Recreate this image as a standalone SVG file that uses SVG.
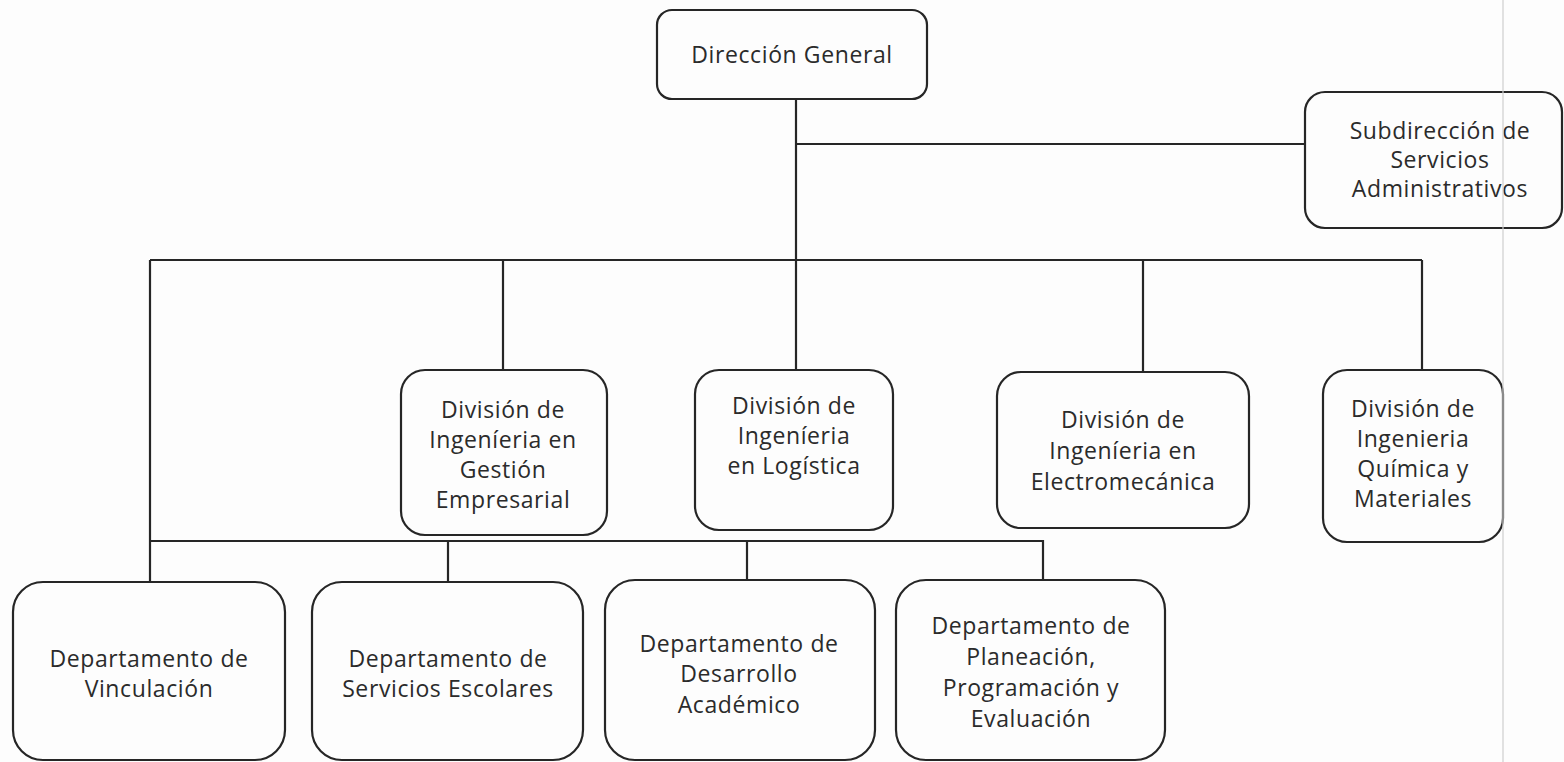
<svg xmlns="http://www.w3.org/2000/svg" width="1564" height="762" viewBox="0 0 1564 762">
<style>
.bg{fill:#fdfdfd}
.box{fill:none;stroke:#262626;stroke-width:2.2}
.ln{fill:none;stroke:#262626;stroke-width:2.2}
text{font-family:"Open Sans","Liberation Sans",sans-serif;font-size:23px;fill:#2b2b2b;text-anchor:middle;letter-spacing:0.6px}
.edge{stroke:#cfcfcf;stroke-width:1.2}
</style>
<rect class="bg" x="0" y="0" width="1564" height="762"/>
<g id="connectors">
<path class="ln" d="M796 99V260"/>
<path class="ln" d="M796 144H1305"/>
<path class="ln" d="M150 260H1422"/>
<path class="ln" d="M503 260V370"/>
<path class="ln" d="M796 260V370"/>
<path class="ln" d="M1143 260V372"/>
<path class="ln" d="M1422 260V370"/>
<path class="ln" d="M150 260V582"/>
<path class="ln" d="M150 541H1043V580"/>
<path class="ln" d="M448 541V582"/>
<path class="ln" d="M747 541V580"/>
</g>
<g id="n_direccion">
<rect class="box" x="657" y="10" width="270" height="89" rx="15"/>
<text x="792" y="63">Dirección General</text>
</g>
<g id="n_subdireccion">
<rect class="box" x="1305" y="92" width="257" height="136" rx="20"/>
<text x="1440" y="139">Subdirección de</text>
<text x="1440" y="168">Servicios</text>
<text x="1440" y="197">Administrativos</text>
</g>
<g id="n_gestion">
<rect class="box" x="401" y="370" width="206" height="165" rx="24"/>
<text x="503" y="418">División de</text>
<text x="503" y="448">Ingeníeria en</text>
<text x="503" y="478">Gestión</text>
<text x="503" y="508">Empresarial</text>
</g>
<g id="n_logistica">
<rect class="box" x="695" y="370" width="198" height="160" rx="24"/>
<text x="794" y="414">División de</text>
<text x="794" y="444">Ingeníeria</text>
<text x="794" y="474">en Logística</text>
</g>
<g id="n_electro">
<rect class="box" x="997" y="372" width="252" height="156" rx="24"/>
<text x="1123" y="428">División de</text>
<text x="1123" y="459">Ingeníeria en</text>
<text x="1123" y="490">Electromecánica</text>
</g>
<g id="n_quimica">
<rect class="box" x="1323" y="370" width="180" height="172" rx="24"/>
<text x="1413" y="417">División de</text>
<text x="1413" y="447">Ingenieria</text>
<text x="1413" y="477">Química y</text>
<text x="1413" y="507">Materiales</text>
</g>
<g id="n_vinculacion">
<rect class="box" x="13" y="582" width="272" height="178" rx="30"/>
<text x="149" y="667">Departamento de</text>
<text x="149" y="697">Vinculación</text>
</g>
<g id="n_escolares">
<rect class="box" x="312" y="582" width="271" height="178" rx="30"/>
<text x="448" y="667">Departamento de</text>
<text x="448" y="697">Servicios Escolares</text>
</g>
<g id="n_desarrollo">
<rect class="box" x="605" y="580" width="270" height="180" rx="30"/>
<text x="739" y="652">Departamento de</text>
<text x="739" y="682">Desarrollo</text>
<text x="739" y="713">Académico</text>
</g>
<g id="n_planeacion">
<rect class="box" x="896" y="580" width="269" height="180" rx="30"/>
<text x="1031" y="634">Departamento de</text>
<text x="1031" y="665">Planeación,</text>
<text x="1031" y="696">Programación y</text>
<text x="1031" y="727">Evaluación</text>
</g>
<path class="edge" d="M1503 0V762"/>
</svg>
